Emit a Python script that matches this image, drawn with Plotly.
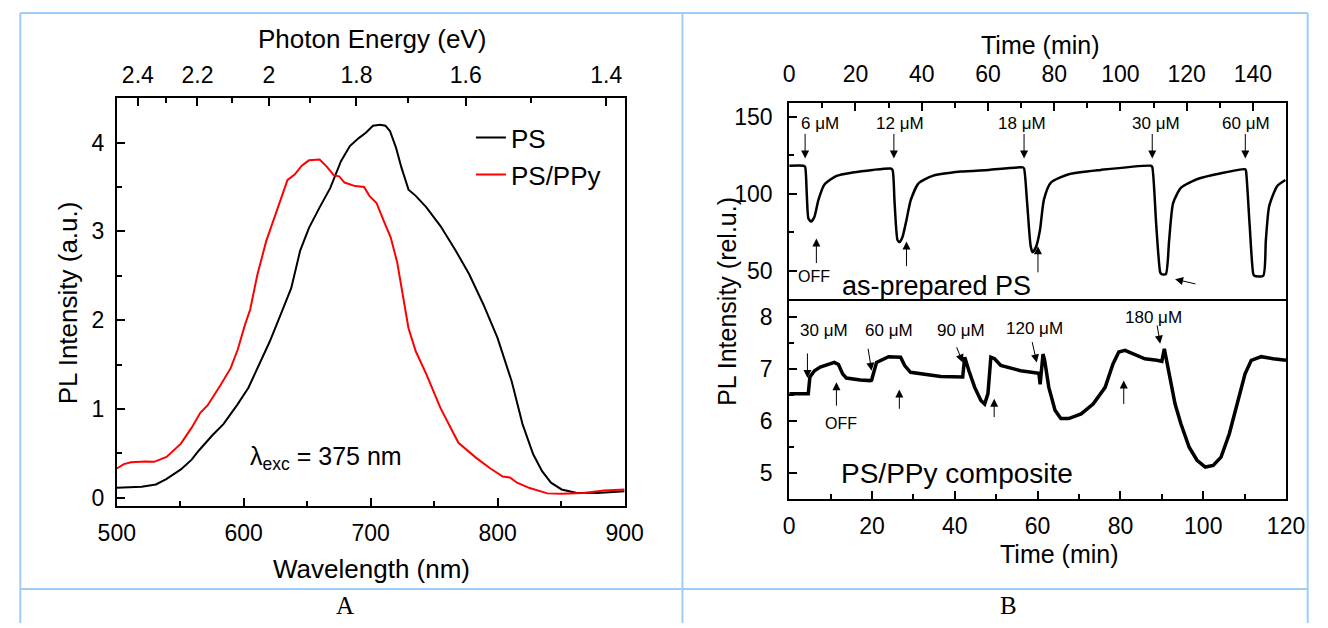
import plotly.graph_objects as go

FONT = "Liberation Sans, Arial, sans-serif"
W, H = 1328, 628
# drawing area the page gives the figure: left offset and size in pixels
X0, PW, PH = 17.0, 1293.0, 622.0

# ---- Panel A: PL spectra ----
wl_ps = [500, 519.6, 530.8, 539, 550.5, 559, 564.5, 575.7, 584, 595, 603.7, 612, 620.5, 629,
         637.4, 644.4, 651.4, 659.8, 668.2, 676.6, 683.6, 690.6, 696.2, 701.8, 707.4, 711.6,
         715.2, 720, 724.2, 729.8, 735.5, 743.9, 755, 766.3, 777.5, 788.7, 799.9, 811.1,
         819.6, 828, 835, 842, 850.4, 861.6, 878.4, 900]
pl_ps = [0.113, 0.124, 0.15, 0.21, 0.32, 0.43, 0.53, 0.71, 0.83, 1.05, 1.24, 1.50, 1.76, 2.06,
         2.36, 2.78, 3.04, 3.27, 3.49, 3.79, 3.96, 4.05, 4.11, 4.19, 4.20, 4.19,
         4.13, 3.94, 3.72, 3.47, 3.40, 3.27, 3.06, 2.80, 2.52, 2.18, 1.80, 1.31,
         0.83, 0.49, 0.30, 0.17, 0.094, 0.056, 0.053, 0.075]

wl_ppy = [500, 505.6, 511.2, 522.4, 529.4, 539.2, 550.5, 559, 565.9, 571.5, 581.3, 589.7, 595.3,
          601, 605.1, 610.7, 617.7, 626.1, 634.5, 640.1, 645.7, 651.4, 659.8, 665.4, 671,
          675.2, 679.4, 687.8, 694.8, 699, 704.6, 710.2, 715.8, 720.9, 725.6, 729.8, 735.5,
          743.9, 755, 769.1, 783.1, 794.3, 804.1, 809.7, 815.3, 825.2, 839.2, 850.4, 867.2,
          884, 900]
pl_ppy = [0.33, 0.38, 0.40, 0.41, 0.405, 0.46, 0.61, 0.79, 0.96, 1.04, 1.26, 1.46, 1.67,
          1.95, 2.12, 2.51, 2.89, 3.23, 3.58, 3.64, 3.74, 3.80, 3.81, 3.73, 3.63,
          3.62, 3.55, 3.51, 3.50, 3.40, 3.32, 3.12, 2.93, 2.65, 2.25, 1.91, 1.65,
          1.39, 1.01, 0.62, 0.45, 0.33, 0.24, 0.23, 0.17, 0.11, 0.05, 0.045, 0.053,
          0.083, 0.094]

energy_major = [2.4, 2.2, 2.0, 1.8, 1.6, 1.4]
energy_labels = ["2.4", "2.2", "2", "1.8", "1.6", "1.4"]
energy_minor = [2.3, 2.1, 1.9, 1.7, 1.5]
HC = 1239.84  # eV*nm

# ---- Panel B (top): as-prepared PS ----
t_ps = [0, 4.3, 4.8, 5.3, 5.8, 6.6, 7.6, 8.8, 10.6, 14.3, 19.1, 25.2, 30.6, 31.2, 31.8, 32.7,
        33.3, 34.2, 35.4, 36.7, 39.1, 43.3, 51.8, 60.2, 70.5, 70.9, 71.8, 72.9, 73.5, 74.5,
        75.7, 76.9, 79.0, 84.4, 94.1, 109.2, 109.6, 110.8, 112.0, 112.4, 113.7, 114.7, 115.9,
        118.3, 123.1, 130.4, 137.7, 137.9, 139.0, 140.1, 140.5, 143.1, 143.9, 144.9, 147.3,
        149.8]
pl_asprep = [118.3, 118.3, 117.5, 100, 84, 82, 85, 96, 106, 111.7, 113.9, 115.6, 116.5, 115.5,
             95, 70, 68.7, 72, 83, 96, 107, 111.7, 114.5, 115.6, 117.2, 116.5, 95, 66, 62,
             65.4, 76.4, 96.3, 107.3, 112.8, 115.6, 118.3, 117.5, 80, 49, 47.8, 47.8, 69.8, 94,
             104, 109.5, 113.4, 116, 115, 80, 48, 46.7, 46.7, 69.8, 91.9, 105, 109]

# ---- Panel B (bottom): PS/PPy composite ----
t_comp = [0, 4.6, 5.0, 6.1, 7.5, 9.5, 10.9, 11.9, 12.9, 13.8, 17.2, 19.6, 19.9, 21.1, 24.0,
          26.9, 27.9, 29.3, 32.7, 36.6, 41.9, 42.4, 43.4, 44.8, 46.3, 47.2, 48.0, 48.7, 49.6,
          51.1, 55.9, 60.3, 60.6, 61.3, 61.7, 62.7, 64.2, 65.6, 67.5, 70.5, 73.4, 76.3, 78.2,
          79.6, 81.1, 83.0, 85.9, 88.8, 90.0, 90.6, 91.7, 93.2, 94.6, 96.6, 98.5, 100.5,
          102.4, 104.3, 106.3, 108.2, 110.1, 111.6, 114.0, 116.9, 120.0]
pl_comp = [6.52, 6.52, 6.84, 6.96, 7.03, 7.08, 7.12, 7.08, 6.90, 6.82, 6.78, 6.77, 6.78, 7.12,
           7.23, 7.22, 7.06, 6.93, 6.90, 6.85, 6.84, 7.22, 6.96, 6.64, 6.39, 6.32, 6.52, 7.22,
           7.19, 7.06, 6.96, 6.91, 6.70, 7.28, 7.16, 6.64, 6.20, 6.04, 6.04, 6.13, 6.32, 6.64,
           7.09, 7.32, 7.35, 7.28, 7.19, 7.16, 7.14, 7.38, 6.90, 6.32, 5.94, 5.49, 5.24, 5.11,
           5.14, 5.30, 5.75, 6.32, 6.90, 7.16, 7.23, 7.19, 7.16]

# concentration labels and injection/OFF arrows: (time, value)
top_labels = ["6 μM", "12 μM", "18 μM", "30 μM", "60 μM"]
top_label_t = [9.4, 33.3, 70.3, 110.7, 137.9]
top_on_t = [4.8, 31.6, 70.9, 109.6, 137.7]
top_off_t = [8.2, 35.4, 75.1]
top_off_from = [54, 52, 48]
top_off_to = [71, 69, 66]

bot_labels = ["30 μM", "60 μM", "90 μM", "120 μM", "180 μM"]
bot_label_t = [8.5, 24.2, 41.4, 59.3, 87.9]
bot_label_v = [7.73, 7.74, 7.74, 7.78, 7.99]
bot_on_from = [(4.4, 7.32), (19.0, 7.41), (40.3, 7.44), (58.6, 7.54), (88.8, 7.86)]
bot_on_to = [(4.4, 6.82), (19.9, 6.96), (41.9, 7.12), (59.8, 7.12), (89.6, 7.48)]
bot_off_t = [11.4, 26.6, 49.5, 80.8]
bot_off_from = [6.26, 6.20, 6.04, 6.29]
bot_off_to = [6.74, 6.60, 6.42, 6.77]


def px(x):
    return min(max((x - X0) / PW, 0.001), 0.999)


def py(y):
    return min(max(1 - y / PH, 0.0), 1.0)


fig = go.Figure()
fig.add_trace(go.Scatter(x=wl_ps, y=pl_ps, mode="lines", name="PS",
                         line=dict(color="black", width=2), xaxis="x", yaxis="y"))
fig.add_trace(go.Scatter(x=wl_ppy, y=pl_ppy, mode="lines", name="PS/PPy",
                         line=dict(color="#ff0000", width=2), xaxis="x", yaxis="y"))
# same spectrum attached to the photon-energy axis so that axis is drawn
fig.add_trace(go.Scatter(x=wl_ps, y=pl_ps, mode="none", showlegend=False, hoverinfo="skip",
                         xaxis="x2", yaxis="y"))
fig.add_trace(go.Scatter(x=t_ps, y=pl_asprep, mode="lines", showlegend=False,
                         line=dict(color="black", width=2.5, shape="spline", smoothing=0.6),
                         xaxis="x4", yaxis="y4"))
fig.add_trace(go.Scatter(x=t_comp, y=pl_comp, mode="lines", showlegend=False,
                         line=dict(color="black", width=3.5),
                         xaxis="x3", yaxis="y3"))

tickfont = dict(family=FONT, size=23, color="black")
base = dict(showline=True, linecolor="black", linewidth=2, ticks="inside",
            tickcolor="black", tickwidth=1.5, ticklen=8, showgrid=False,
            zeroline=False, tickfont=tickfont)
minor = dict(ticks="inside", ticklen=5, tickcolor="black", tickwidth=1.5, showgrid=False)

domA = [px(115), px(624)]
domB = [px(789), px(1287)]

fig.update_layout(
    width=W, height=H, autosize=False, margin=dict(l=0, r=0, t=0, b=0),
    paper_bgcolor="white", plot_bgcolor="white",
    font=dict(family=FONT, color="black"),
    xaxis=dict(base, domain=domA, anchor="y", range=[500, 900], tick0=500, dtick=100,
               minor=dict(minor, dtick=50), mirror=True, ticklabelstandoff=6),
    yaxis=dict(base, domain=[py(505), py(98)], anchor="x", range=[-0.09, 4.5], tick0=0,
               dtick=1, minor=dict(minor, dtick=0.5), mirror=True, ticklabelstandoff=6),
    xaxis2=dict(base, overlaying="x", anchor="y", side="top", range=[500, 900],
                tickmode="array", tickvals=[HC / e for e in energy_major],
                ticktext=energy_labels, showline=False,
                minor=dict(minor, tickmode="array", tickvals=[HC / e for e in energy_minor]),
                ticklabelstandoff=10),
    xaxis3=dict(base, domain=domB, anchor="y3", range=[0, 120], tick0=0, dtick=20,
                minor=dict(minor, dtick=10), mirror=True, ticklabelstandoff=6),
    yaxis3=dict(base, domain=[py(498), py(301)], anchor="x3", range=[4.5, 8.29], tick0=0,
                dtick=1, minor=dict(minor, dtick=0.5), mirror=True, ticklabelstandoff=10),
    xaxis4=dict(base, domain=domB, anchor="y4", side="top", range=[0, 150], tick0=0,
                dtick=20, minor=dict(minor, dtick=10), mirror=False, ticklabelstandoff=10),
    yaxis4=dict(base, domain=[py(301), py(103)], anchor="x4", range=[30, 159], tick0=0,
                dtick=50, minor=dict(minor, dtick=25), mirror=True, ticklabelstandoff=10),
    legend=dict(x=px(470), y=py(114), xanchor="left", yanchor="top",
                font=dict(family=FONT, size=26, color="black"),
                bgcolor="rgba(0,0,0,0)", tracegroupgap=0),
)

ann = []


def paper_text(text, x, y, size=24, angle=0, family=FONT):
    ann.append(dict(text=text, x=px(x), y=py(y), xref="paper", yref="paper",
                    xanchor="center", yanchor="middle", showarrow=False, textangle=angle,
                    font=dict(family=family, size=size, color="black")))


paper_text("Photon Energy (eV)", 371, 39, 26)
paper_text("Wavelength (nm)", 370, 568, 26)
paper_text("PL Intensity (a.u.)", 67, 302, 26, -90)
paper_text("Time (min)", 1041, 45, 25)
paper_text("Time (min)", 1060, 553, 25)
paper_text("PL Intensity (rel.u.)", 727, 301, 25, -90)
paper_text("A", 344, 605, 25, family="Liberation Serif, Times New Roman, serif")
paper_text("B", 1009, 605, 25, family="Liberation Serif, Times New Roman, serif")

# excitation wavelength note
ann.append(dict(text="λ<sub>exc</sub> = 375 nm", x=603, y=0.45, xref="x", yref="y",
                xanchor="left", yanchor="middle", showarrow=False,
                font=dict(family=FONT, size=25, color="black")))


def data_text(text, x, y, xr, yr, size):
    ann.append(dict(text=text, x=x, y=y, xref=xr, yref=yr, xanchor="center",
                    yanchor="middle", showarrow=False,
                    font=dict(family=FONT, size=size, color="black")))


def arrow(x0, y0, x1, y1, xr, yr):
    ann.append(dict(text="", x=x1, y=y1, ax=x0, ay=y0, xref=xr, yref=yr, axref=xr,
                    ayref=yr, showarrow=True, arrowhead=2, arrowsize=1.6, arrowwidth=1,
                    arrowcolor="black"))


# top panel annotations
for lab, t in zip(top_labels, top_label_t):
    data_text(lab, t, 145.8, "x4", "y4", 17)
for t in top_on_t:
    arrow(t, 140, t, 123, "x4", "y4")
for t, a, b in zip(top_off_t, top_off_from, top_off_to):
    arrow(t, a, t, b, "x4", "y4")
arrow(123.1, 41.2, 116.5, 44.5, "x4", "y4")
data_text("OFF", 7.4, 46.5, "x4", "y4", 16)
data_text("as-prepared PS", 44.6, 40, "x4", "y4", 27)

# bottom panel annotations
for lab, t, v in zip(bot_labels, bot_label_t, bot_label_v):
    data_text(lab, t, v, "x3", "y3", 17)
for (t0, v0), (t1, v1) in zip(bot_on_from, bot_on_to):
    arrow(t0, v0, t1, v1, "x3", "y3")
for t, a, b in zip(bot_off_t, bot_off_from, bot_off_to):
    arrow(t, a, t, b, "x3", "y3")
data_text("OFF", 12.4, 5.95, "x3", "y3", 16)
data_text("PS/PPy composite", 40.6, 4.99, "x3", "y3", 28)

fig.update_layout(annotations=ann)

# table grid around the two panels
grid = dict(color="#9ecbf7", width=2)
shapes = []
for (x0, y0, x1, y1) in [(8, 13, 1326, 13), (8, 13, 8, 628), (682, 13, 682, 628),
                         (1326, 13, 1326, 628), (8, 588, 1326, 588)]:
    shapes.append(dict(type="line", xref="paper", yref="paper", x0=px(x0), y0=py(y0),
                       x1=px(x1), y1=py(y1), line=grid))
fig.update_layout(shapes=shapes)

fig.write_html("out.html")
